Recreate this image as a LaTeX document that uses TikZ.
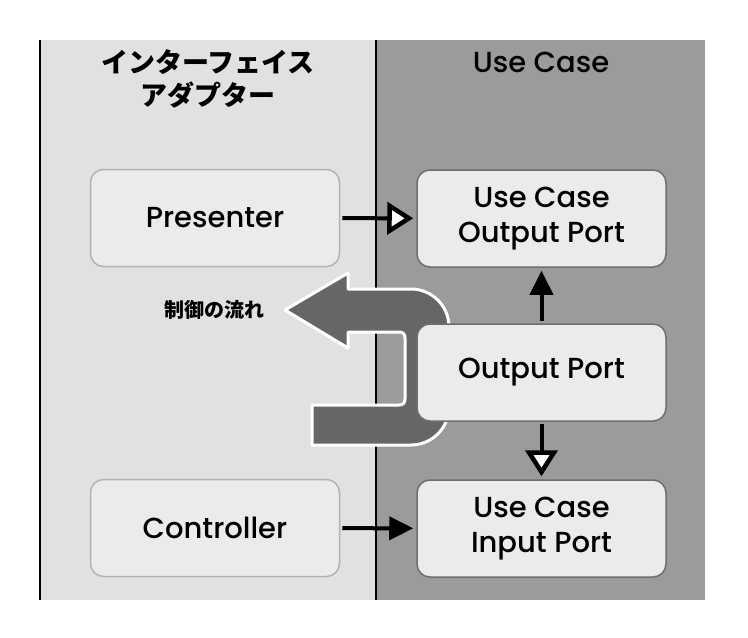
\documentclass[tikz,border=0pt]{standalone}
\usepackage{fontspec}
\setmainfont{Noto Sans CJK JP}
\newfontfamily\latinfont{Poppins Medium}
\usetikzlibrary{arrows.meta}
\definecolor{leftbg}{HTML}{E1E1E3}
\definecolor{rightbg}{HTML}{9B9B9B}
\definecolor{boxfill}{HTML}{EBEBEB}
\definecolor{flowgray}{HTML}{666666}
\begin{document}
\begin{tikzpicture}[x=1pt,y=-1pt]
	\tikzset{box/.style = {rounded corners=13pt, fill=boxfill, line width=1.5pt, minimum width=249pt, minimum height=97pt, align=center, inner sep=0pt, font=\latinfont\fontsize{29}{35}\selectfont}}
	\tikzset{conn/.style = {line width=4pt, shorten <=2pt, shorten >=3pt}}
	\tikzset{flow/.style = {fill=flowgray, draw=white, line width=3pt, line join=round}}

	\useasboundingbox (0,0) rectangle (748,638);

	% two layers
	\fill[leftbg] (40,40) rectangle (376,600);
	\fill[rightbg] (376,40) rectangle (705,600);
	\draw[line width=2.2pt] (40,40) -- (40,600);
	\draw[line width=2.2pt] (376,40) -- (376,600);

	\node[font=\bfseries\fontsize{27}{33}\selectfont, align=center] (H_1) at (208,79) {インターフェイス\\アダプター};
	\node[font=\latinfont\fontsize{29}{35}\selectfont] (H_2) at (541,62) {Use Case};

	% flow of control
	\draw[flow] (285,310) -- (348,273) -- (348,289) -- (411,289)
		.. controls (432,289) and (449,306) .. (449,327)
		-- (449,407) .. controls (449,428) and (432,445) .. (411,445)
		-- (312,445) -- (312,405) -- (399,405) .. controls (403,405) and (405,403) .. (405,399)
		-- (405,338) .. controls (405,334) and (403,332) .. (399,332) -- (348,332) -- (348,348) -- cycle;
	\node[font=\bfseries\fontsize{20}{24}\selectfont] (F) at (214,310) {制御の流れ};

	\node[box, draw=black!30] (B_1) at (215,218) {Presenter};
	\node[box, draw=black!30] (B_2) at (215,528) {Controller};
	\node[box, draw=black!57] (B_3) at (541.5,218.5) {Use Case\\Output Port};
	\node[box, draw=black!57] (B_4) at (541.5,372.5) {Output Port};
	\node[box, draw=black!57] (B_5) at (541.5,528.5) {Use Case\\Input Port};

	\draw[conn, -{Triangle[fill=white, line width=4.5pt, length=26pt, width=32pt]}] (B_1) -- (B_3);
	\draw[conn, -{Triangle[length=24pt, width=23pt]}] (B_2) -- (B_5);
	\draw[conn, -{Triangle[length=24pt, width=23pt]}] (B_4) -- (B_3);
	\draw[conn, -{Triangle[fill=white, line width=4.5pt, length=26pt, width=32pt]}] (B_4) -- (B_5);

\end{tikzpicture}
\end{document}
